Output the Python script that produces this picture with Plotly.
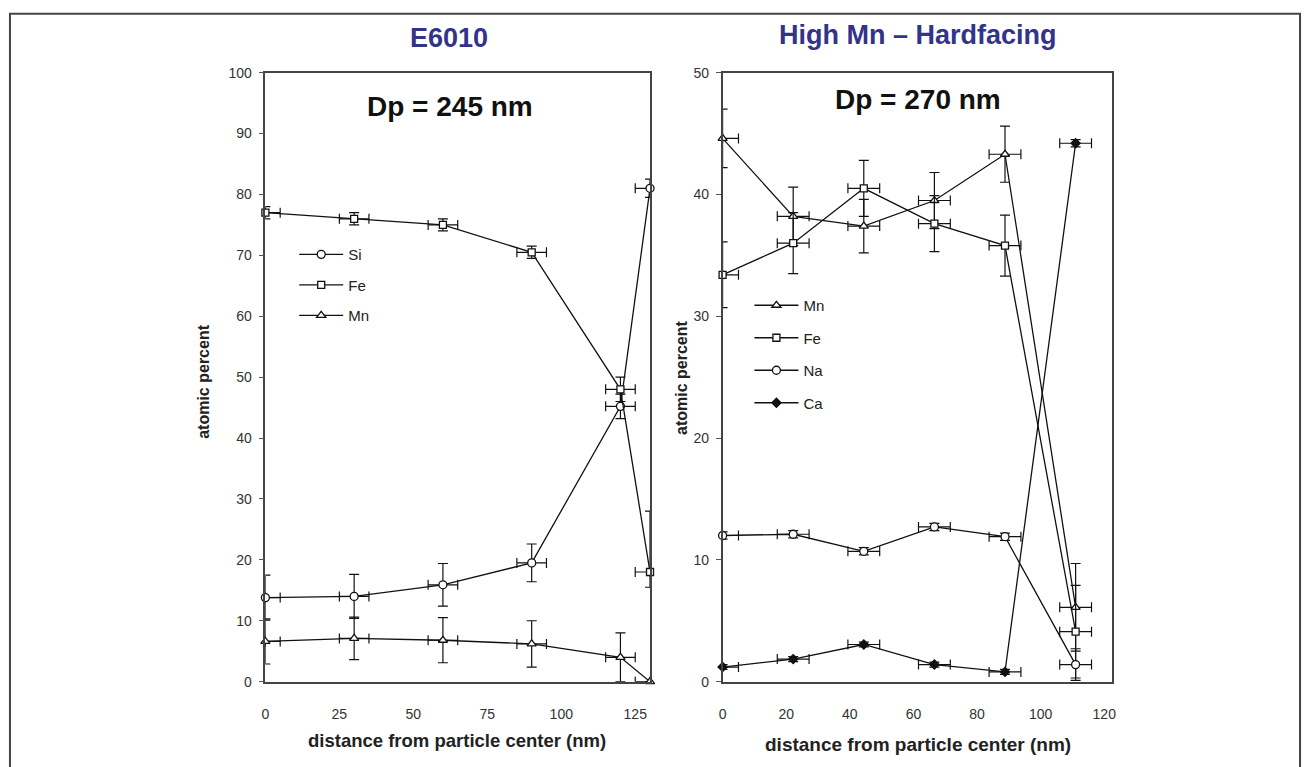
import plotly.graph_objects as go

W, H = 1309, 767

# ---------------- data: left panel (E6010) ----------------
x_left = [0, 30, 60, 90, 120, 130]
si_left = [13.8, 14.0, 15.9, 19.5, 45.2, 81.0]
si_left_err = [3.7, 3.6, 3.5, 3.1, 2.0, 1.5]
fe_left = [77.0, 76.0, 75.0, 70.5, 48.0, 18.0]
fe_left_err_plus = [1.0, 1.0, 1.0, 1.0, 2.0, 10.0]
fe_left_err_minus = [1.0, 1.0, 1.0, 1.0, 2.0, 2.5]
mn_left = [6.6, 7.1, 6.8, 6.2, 4.0, 0.0]
mn_left_err = [3.7, 3.5, 3.7, 3.8, 4.0, 0.0]
x_left_err_plus = [5, 5, 5, 5, 5, 0]
x_left_err_minus = [0, 5, 5, 5, 5, 5]

# ---------------- data: right panel (High Mn - Hardfacing) ----------------
x_right = [0, 22.2, 44.4, 66.6, 88.8, 111]
mn_right = [44.6, 38.2, 37.4, 39.5, 43.3, 6.1]
mn_right_err = [2.4, 2.4, 2.2, 2.3, 2.3, 3.6]
fe_right = [33.4, 36.0, 40.5, 37.6, 35.8, 4.1]
fe_right_err = [2.7, 2.5, 2.3, 2.3, 2.5, 3.8]
na_right = [12.0, 12.1, 10.7, 12.7, 11.9, 1.4]
na_right_err = [0.3, 0.3, 0.3, 0.3, 0.3, 1.3]
ca_right = [1.2, 1.85, 3.05, 1.4, 0.8, 44.2]
ca_right_err = [0.2, 0.2, 0.2, 0.2, 0.2, 0.3]
x_right_err_plus = [5, 5, 5, 5, 5, 5]
x_right_err_minus = [0, 5, 5, 5, 5, 5]

left_xticks = [0, 25, 50, 75, 100, 125]
left_yticks = [0, 10, 20, 30, 40, 50, 60, 70, 80, 90, 100]
right_xticks = [0, 20, 40, 60, 80, 100, 120]
right_yticks = [0, 10, 20, 30, 40, 50]


def px(x):
    return x / W


def py(y):
    return 1 - y / H


INK = "#111111"
FONT = "Liberation Sans, Arial, sans-serif"


def err(arr, minus=None):
    d = dict(type="data", array=arr, color=INK, thickness=1.2, width=5, visible=True)
    if minus is not None:
        d["symmetric"] = False
        d["arrayminus"] = minus
    return d


def trace(x, y, name, symbol, xa, ya, leg, yerr, xerr, xerr_minus, fill="white", size=8, yerr_minus=None):
    return go.Scatter(
        x=x, y=y, name=name, mode="lines+markers",
        xaxis=xa, yaxis=ya, legend=leg, legendgroup=name + xa,
        line=dict(color=INK, width=1.3),
        marker=dict(symbol=symbol, size=size, color=fill, line=dict(color=INK, width=1.3)),
        error_y=err(yerr, yerr_minus),
        error_x=err(xerr, xerr_minus),
        cliponaxis=False,
    )


fig = go.Figure()
fig.add_trace(trace(x_left, si_left, "Si", "circle", "x", "y", "legend", si_left_err,
                    x_left_err_plus, x_left_err_minus))
fig.add_trace(trace(x_left, fe_left, "Fe", "square", "x", "y", "legend", fe_left_err_plus,
                    x_left_err_plus, x_left_err_minus, size=7, yerr_minus=fe_left_err_minus))
fig.add_trace(trace(x_left, mn_left, "Mn", "triangle-up", "x", "y", "legend", mn_left_err,
                    x_left_err_plus, x_left_err_minus))

fig.add_trace(trace(x_right, mn_right, "Mn", "triangle-up", "x2", "y2", "legend2", mn_right_err,
                    x_right_err_plus, x_right_err_minus))
fig.add_trace(trace(x_right, fe_right, "Fe", "square", "x2", "y2", "legend2", fe_right_err,
                    x_right_err_plus, x_right_err_minus, size=7))
fig.add_trace(trace(x_right, na_right, "Na", "circle", "x2", "y2", "legend2", na_right_err,
                    x_right_err_plus, x_right_err_minus))
fig.add_trace(trace(x_right, ca_right, "Ca", "diamond", "x2", "y2", "legend2", ca_right_err,
                    x_right_err_plus, x_right_err_minus, fill=INK, size=7))

line_common = dict(showline=True, linecolor="#444444", linewidth=1.5, mirror=True,
                   showgrid=False, zeroline=False,
                   tickfont=dict(family=FONT, size=14, color="#333333"))
x_common = dict(ticks="", ticklabelstandoff=19, **line_common)
y_common = dict(ticks="outside", ticklen=5, tickcolor="#555555", ticklabelstandoff=4, **line_common)

ydom = [py(688), py(66)]
fig.update_layout(
    width=W, height=H,
    margin=dict(l=0, r=0, t=0, b=0),
    paper_bgcolor="white", plot_bgcolor="white",
    font=dict(family=FONT, color=INK),
    showlegend=True,
    xaxis=dict(domain=[px(263), px(650)], range=[0, 130], tickvals=left_xticks, anchor="y", **x_common),
    yaxis=dict(domain=ydom, range=[0, 100], tickvals=left_yticks, anchor="x", **y_common),
    xaxis2=dict(domain=[px(723), px(1115)], range=[0, 122.5], tickvals=right_xticks, anchor="y2", **x_common),
    yaxis2=dict(domain=ydom, range=[0, 50], tickvals=right_yticks, anchor="x2", **y_common),
    legend=dict(x=px(292), y=py(235), xanchor="left", yanchor="top", bgcolor="rgba(0,0,0,0)",
                font=dict(family=FONT, size=15, color="#222222"), tracegroupgap=8,
                traceorder="grouped", itemwidth=44),
    legend2=dict(x=px(750), y=py(287), xanchor="left", yanchor="top", bgcolor="rgba(0,0,0,0)",
                 font=dict(family=FONT, size=15, color="#222222"), tracegroupgap=10,
                 traceorder="grouped", itemwidth=44),
)

annos = [
    dict(text="<b>E6010</b>", x=px(448), y=py(31), font=dict(size=27, color="#33338a")),
    dict(text="<b>High Mn – Hardfacing</b>", x=px(920), y=py(28), font=dict(size=27, color="#33338a")),
    dict(text="<b>Dp = 245 nm</b>", x=px(449), y=py(101), font=dict(size=28, color=INK)),
    dict(text="<b>Dp = 270 nm</b>", x=px(920), y=py(93), font=dict(size=28, color=INK)),
    dict(text="<b>distance from particle center (nm)</b>", x=px(456), y=py(748), font=dict(size=18.5, color="#222222")),
    dict(text="<b>distance from particle center (nm)</b>", x=px(920), y=py(752), font=dict(size=19, color="#222222")),
    dict(text="<b>atomic percent</b>", x=px(200), y=py(382), textangle=-90, font=dict(size=16, color="#222222")),
    dict(text="<b>atomic percent</b>", x=px(681), y=py(378), textangle=-90, font=dict(size=16, color="#222222")),
]
for a in annos:
    a.update(xref="paper", yref="paper", showarrow=False, xanchor="center", yanchor="middle")
    a["font"]["family"] = FONT
    fig.add_annotation(**a)

# outer frame
fig.add_shape(type="rect", xref="paper", yref="paper", x0=px(6), x1=px(1304), y0=py(790), y1=py(6),
              line=dict(color="#444444", width=2), fillcolor="rgba(0,0,0,0)", layer="below")

fig.write_html("out.html")
